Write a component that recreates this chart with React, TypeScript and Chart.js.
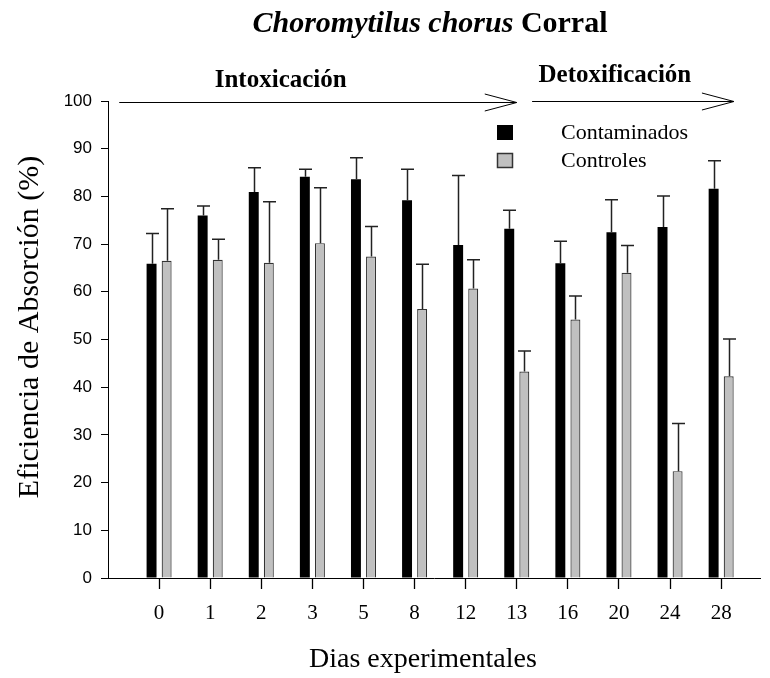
import React, { useEffect, useRef } from "react";
import { Chart, registerables } from "chart.js";

Chart.register(...registerables);

const categories = ["0", "1", "2", "3", "5", "8", "12", "13", "16", "20", "24", "28"];
const contaminados = [65.9, 76.0, 80.9, 84.1, 83.6, 79.2, 69.8, 73.2, 66.0, 72.5, 73.6, 81.6];
const contaminadosErr = [6.3, 2.0, 5.1, 1.6, 4.5, 6.5, 14.6, 3.9, 4.6, 6.8, 6.5, 5.9];
const controles = [66.5, 66.7, 66.1, 70.2, 67.4, 56.4, 60.7, 43.3, 54.2, 64.0, 22.4, 42.3];
const controlesErr = [10.9, 4.3, 12.8, 11.6, 6.3, 9.4, 6.0, 4.3, 4.9, 5.7, 10.0, 7.8];
const yTicks = [0, 10, 20, 30, 40, 50, 60, 70, 80, 90, 100];

const TITLE_ITALIC = "Choromytilus chorus ";
const TITLE_PLAIN = "Corral";
const X_TITLE = "Dias experimentales";
const Y_TITLE = "Eficiencia de Absorción (%)";

const SERIF = "'Liberation Serif', 'Times New Roman', serif";
const SANS = "'Liberation Sans', Arial, sans-serif";

const decorPlugin = {
  id: "decor",
  afterDatasetsDraw(chart: any) {
    const ctx = chart.ctx;
    const yScale = chart.scales.y;
    ctx.save();
    ctx.strokeStyle = "#222";
    ctx.lineWidth = 1.5;
    chart.data.datasets.forEach((ds: any, di: number) => {
      const meta = chart.getDatasetMeta(di);
      meta.data.forEach((bar: any, i: number) => {
        const v = ds.data[i].y;
        const e = ds.errors[i];
        const x = Math.round(bar.x) + 0.5;
        const yTop = yScale.getPixelForValue(v);
        const yErr = yScale.getPixelForValue(v + e);
        ctx.beginPath();
        ctx.moveTo(x, yTop);
        ctx.lineTo(x, yErr);
        ctx.moveTo(x - 6.5, yErr);
        ctx.lineTo(x + 6.5, yErr);
        ctx.stroke();
      });
    });
    ctx.restore();
  },
  afterDraw(chart: any) {
    const ctx = chart.ctx;
    const xs = chart.scales.x;
    const ys = chart.scales.y;
    const area = chart.chartArea;
    ctx.save();
    ctx.fillStyle = "#000000";

    // Title
    const f1 = `italic bold 30px ${SERIF}`;
    const f2 = `bold 30px ${SERIF}`;
    ctx.font = f1;
    const w1 = ctx.measureText(TITLE_ITALIC).width;
    ctx.font = f2;
    const w2 = ctx.measureText(TITLE_PLAIN).width;
    const cx = (area.left + area.right) / 2 - 4;
    const tx = cx - (w1 + w2) / 2;
    ctx.textBaseline = "alphabetic";
    ctx.textAlign = "left";
    ctx.font = f1;
    ctx.fillText(TITLE_ITALIC, tx, 32);
    ctx.font = f2;
    ctx.fillText(TITLE_PLAIN, tx + w1, 32);

    // Axis titles
    ctx.font = `28px ${SERIF}`;
    ctx.textAlign = "left";
    ctx.textBaseline = "alphabetic";
    ctx.fillText(X_TITLE, 309, 667);

    ctx.save();
    ctx.font = `30px ${SERIF}`;
    ctx.translate(30, 327);
    ctx.rotate(-Math.PI / 2);
    ctx.textAlign = "center";
    ctx.textBaseline = "middle";
    ctx.fillText(Y_TITLE, 0, 0);
    ctx.restore();

    // Stage arrows
    const stages = [
      { label: "Intoxicación", from: -0.78, to: 7.0, at: 2.38, dy: 1.5, ty: -16 },
      { label: "Detoxificación", from: 7.3, to: 11.25, at: 8.92, dy: 0.5, ty: -20 },
    ];
    ctx.strokeStyle = "#000";
    ctx.lineWidth = 1;
    stages.forEach((s) => {
      const y = ys.getPixelForValue(100) + s.dy;
      const x0 = xs.getPixelForValue(s.from);
      const x1 = xs.getPixelForValue(s.to);
      ctx.beginPath();
      ctx.moveTo(x0, y);
      ctx.lineTo(x1, y);
      ctx.moveTo(x1 - 32, y - 8.5);
      ctx.lineTo(x1, y);
      ctx.lineTo(x1 - 32, y + 8.5);
      ctx.stroke();
      ctx.font = `bold 25px ${SERIF}`;
      ctx.textAlign = "center";
      ctx.textBaseline = "alphabetic";
      ctx.fillText(s.label, xs.getPixelForValue(s.at), y + s.ty);
    });

    // Legend
    const lx = area.left + 389;
    const ly = area.top + 24;
    chart.data.datasets.forEach((ds: any, i: number) => {
      const y = ly + i * 28;
      ctx.fillStyle = ds.backgroundColor;
      ctx.fillRect(lx, y, 16, 15);
      if (ds.borderWidth) {
        ctx.strokeStyle = ds.borderColor;
        ctx.lineWidth = 1.5;
        ctx.strokeRect(lx + 0.5, y + 0.5, 15, 14);
      }
      ctx.fillStyle = "#000";
      ctx.font = `22px ${SERIF}`;
      ctx.textAlign = "left";
      ctx.textBaseline = "middle";
      ctx.fillText(ds.label, lx + 64, y + 8);
    });
    ctx.restore();
  },
};

export default function App() {
  const canvasRef = useRef<HTMLCanvasElement | null>(null);

  useEffect(() => {
    if (!canvasRef.current) return;
    const chart = new Chart(canvasRef.current, {
      type: "bar",
      data: {
        datasets: [
          {
            label: "Contaminados",
            data: contaminados.map((y, i) => ({ x: i, y })),
            backgroundColor: "#000000",
            borderColor: "#000000",
            borderWidth: 0,
            categoryPercentage: 0.59,
            barPercentage: 0.66,
            errors: contaminadosErr,
          } as any,
          {
            label: "Controles",
            data: controles.map((y, i) => ({ x: i, y })),
            backgroundColor: "#c0c0c0",
            borderColor: "#333333",
            borderWidth: 1.2,
            categoryPercentage: 0.59,
            barPercentage: 0.66,
            errors: controlesErr,
          } as any,
        ],
      },
      options: {
        responsive: false,
        animation: false,
        devicePixelRatio: 1,
        layout: { padding: { top: 101, right: 10, left: 0, bottom: 0 } },
        plugins: {
          legend: { display: false },
          tooltip: { enabled: false },
          title: { display: false },
        },
        scales: {
          x: {
            type: "linear",
            min: -1,
            max: 11.76,
            offset: false,
            afterBuildTicks: (s: any) => {
              s.ticks = categories.map((_, i) => ({ value: i }));
            },
            afterFit: (s: any) => {
              s.height = 100;
            },
            grid: {
              offset: false,
              drawOnChartArea: false,
              drawTicks: true,
              tickLength: 11,
              color: "#000000",
              tickColor: "#000000",
              tickWidth: 1.3,
              lineWidth: 1,
            },
            border: { display: true, color: "#000", width: 1 },
            ticks: {
              callback: (v: any) => categories[v] ?? "",
              font: { size: 21, family: SERIF },
              color: "#000",
              padding: 12,
              maxRotation: 0,
              autoSkip: false,
            },
          },
          y: {
            min: 0,
            max: 100,
            afterBuildTicks: (s: any) => {
              s.ticks = yTicks.map((v) => ({ value: v }));
            },
            afterFit: (s: any) => {
              s.width = 108;
            },
            grid: {
              offset: false,
              drawOnChartArea: false,
              drawTicks: true,
              tickLength: 7,
              color: "#000",
              lineWidth: 1,
            },
            border: { display: true, color: "#000", width: 1 },
            ticks: {
              font: { size: 17, family: SANS },
              color: "#000",
              padding: 9,
            },
          },
        },
      } as any,
      plugins: [decorPlugin],
    });
    return () => chart.destroy();
  }, []);

  return (
    <div style={{ position: "absolute", left: 0, top: 0, width: 770, height: 678, background: "#fff" }}>
      <canvas ref={canvasRef} width={770} height={678} />
    </div>
  );
}
